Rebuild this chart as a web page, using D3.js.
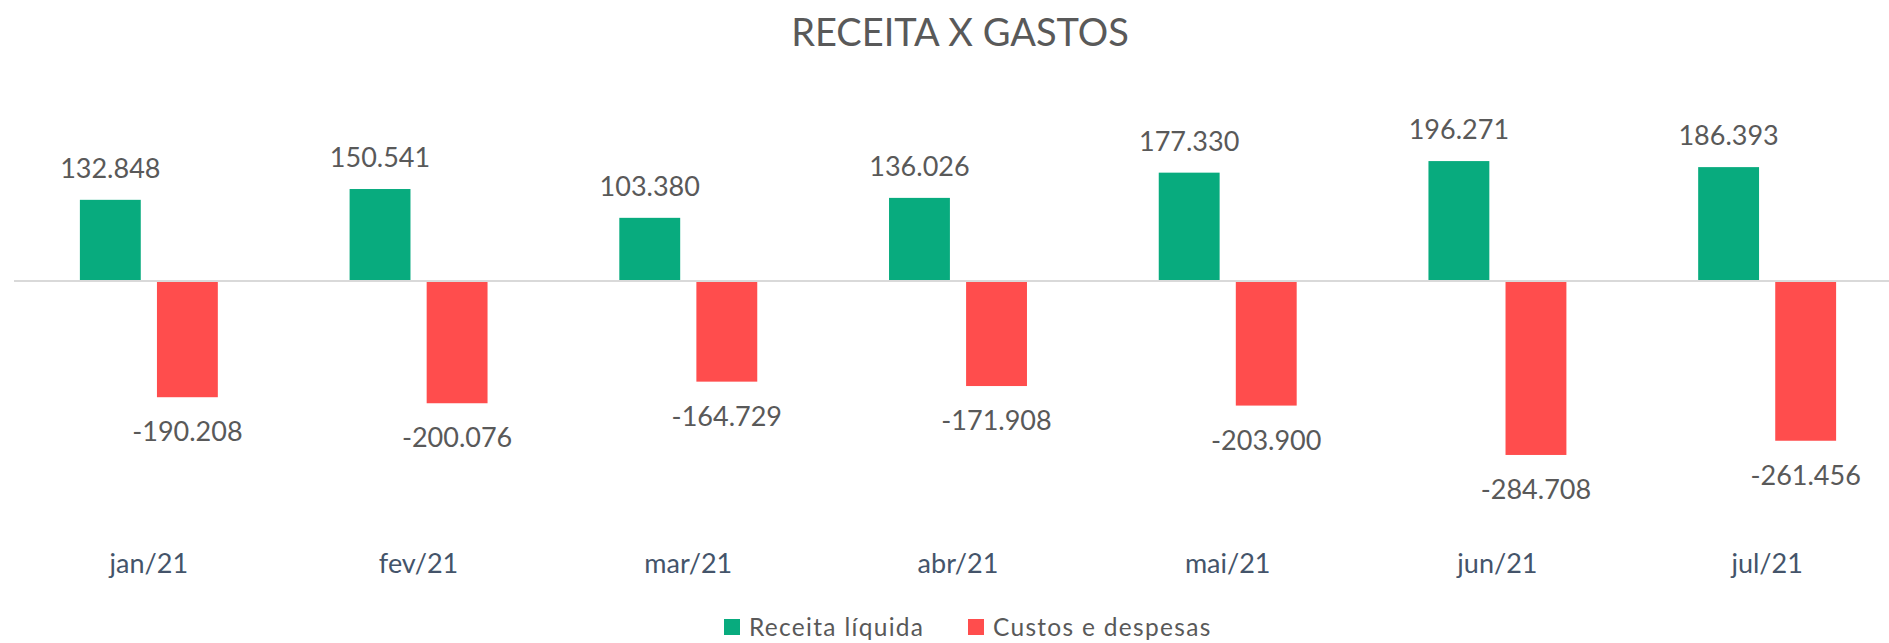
<!DOCTYPE html>
<html>
<head>
<meta charset="utf-8">
<script src="https://cdn.jsdelivr.net/npm/d3@7/dist/d3.min.js"></script>
<style>
  html, body { margin: 0; padding: 0; background: #ffffff; }
  svg { display: block; }
  text { font-family: Lato, "Open Sans", sans-serif; }
</style>
</head>
<body>
<div id="chart"></div>
<script>
const title = "RECEITA X GASTOS";
const months = ["jan/21", "fev/21", "mar/21", "abr/21", "mai/21", "jun/21", "jul/21"];
const seriesNames = ["Receita líquida", "Custos e despesas"];
const receita = [132848, 150541, 103380, 136026, 177330, 196271, 186393];
const custos = [-190208, -200076, -164729, -171908, -203900, -284708, -261456];
const seriesColors = ["#08AB7E", "#FF4D4D"];
const yDomain = [-300000, 250000];

const W = 1889, H = 643;
const svg = d3.select("#chart").append("svg").attr("width", W).attr("height", H);

const fmt = v => d3.format(",")(v).replace(/,/g, ".").replace(/\u2212/g, "-");

const x0 = d3.scaleBand().domain(months).range([14, 1902]).paddingInner(0).paddingOuter(0);
const x1 = d3.scaleBand().domain(seriesNames).range([0, x0.bandwidth()]).paddingInner(0.21).paddingOuter(0.855);
const y = d3.scaleLinear().domain(yDomain).range([464.3, 128.25]);

const data = months.map((m, i) => ({ month: m, values: [
  { s: seriesNames[0], v: receita[i], c: seriesColors[0] },
  { s: seriesNames[1], v: custos[i], c: seriesColors[1] }
]}));

// title
svg.append("text").attr("x", 960).attr("y", 46).attr("text-anchor", "middle")
  .attr("font-size", 38).attr("fill", "#595959").text(title);

const g = svg.selectAll("g.cat").data(data).join("g").attr("class", "cat")
  .attr("transform", d => `translate(${x0(d.month)},0)`);

g.selectAll("rect").data(d => d.values).join("rect")
  .attr("x", d => x1(d.s))
  .attr("width", x1.bandwidth())
  .attr("y", d => Math.min(y(d.v), y(0)))
  .attr("height", d => Math.abs(y(d.v) - y(0)))
  .attr("fill", d => d.c);

g.selectAll("text.val").data(d => d.values).join("text").attr("class", "val")
  .attr("x", d => x1(d.s) + x1.bandwidth() / 2)
  .attr("y", d => d.v >= 0 ? y(d.v) - 22 : y(d.v) + 44)
  .attr("text-anchor", "middle").attr("font-size", 27).attr("fill", "#595959")
  .text(d => fmt(d.v));

// zero line
svg.append("line").attr("x1", 14).attr("x2", W).attr("y1", y(0)).attr("y2", y(0))
  .attr("stroke", "#d9d9d9").attr("stroke-width", 2);

// category labels
svg.selectAll("text.cat").data(months).join("text").attr("class", "cat")
  .attr("x", d => x0(d) + x0.bandwidth() / 2).attr("y", 573)
  .attr("text-anchor", "middle").attr("font-size", 27).attr("fill", "#44546A")
  .text(d => d);

// legend
const legendX = [724, 968];
const lg = svg.selectAll("g.leg").data(seriesNames).join("g").attr("class", "leg")
  .attr("transform", (d, i) => `translate(${legendX[i]},0)`);
lg.append("rect").attr("x", 0).attr("y", 619).attr("width", 16).attr("height", 16)
  .attr("fill", (d, i) => seriesColors[i]);
lg.append("text").attr("x", 25).attr("y", 636).attr("font-size", 24.5)
  .attr("letter-spacing", 1.3).attr("fill", "#595959").text(d => d);
</script>
</body>
</html>
